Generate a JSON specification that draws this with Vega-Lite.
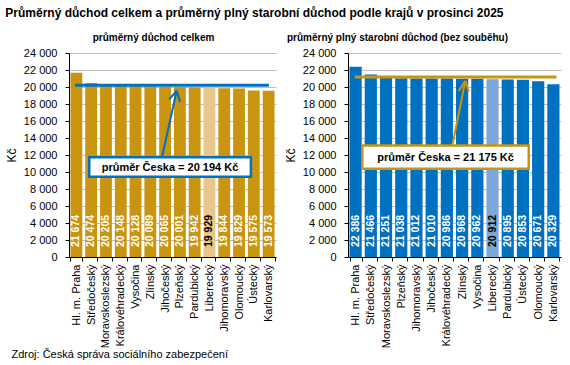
{
  "$schema": "https://vega.github.io/schema/vega-lite/v6.json",
  "background": "white",
  "padding": {"left": 5, "top": 7, "right": 5, "bottom": 5},
  "title": {"text": "Průměrný důchod celkem a průměrný plný starobní důchod podle krajů v prosinci 2025", "anchor": "start", "frame": "bounds", "fontSize": 12, "fontWeight": "bold", "color": "#000000", "offset": 13},
  "datasets": {
    "left": [
      {"kraj": "Hl. m. Praha", "value": 21674, "hl": false},
      {"kraj": "Středočeský", "value": 20474, "hl": false},
      {"kraj": "Moravskoslezský", "value": 20205, "hl": false},
      {"kraj": "Královéhradecký", "value": 20148, "hl": false},
      {"kraj": "Vysočina", "value": 20128, "hl": false},
      {"kraj": "Zlínský", "value": 20089, "hl": false},
      {"kraj": "Jihočeský", "value": 20065, "hl": false},
      {"kraj": "Plzeňský", "value": 20001, "hl": false},
      {"kraj": "Pardubický", "value": 19942, "hl": false},
      {"kraj": "Liberecký", "value": 19929, "hl": true},
      {"kraj": "Jihomoravský", "value": 19844, "hl": false},
      {"kraj": "Olomoucký", "value": 19829, "hl": false},
      {"kraj": "Ústecký", "value": 19575, "hl": false},
      {"kraj": "Karlovarský", "value": 19573, "hl": false}
    ],
    "right": [
      {"kraj": "Hl. m. Praha", "value": 22386, "hl": false},
      {"kraj": "Středočeský", "value": 21466, "hl": false},
      {"kraj": "Moravskoslezský", "value": 21251, "hl": false},
      {"kraj": "Plzeňský", "value": 21038, "hl": false},
      {"kraj": "Jihomoravský", "value": 21012, "hl": false},
      {"kraj": "Jihočeský", "value": 21010, "hl": false},
      {"kraj": "Královéhradecký", "value": 20986, "hl": false},
      {"kraj": "Zlínský", "value": 20968, "hl": false},
      {"kraj": "Vysočina", "value": 20962, "hl": false},
      {"kraj": "Liberecký", "value": 20912, "hl": true},
      {"kraj": "Pardubický", "value": 20895, "hl": false},
      {"kraj": "Ústecký", "value": 20853, "hl": false},
      {"kraj": "Olomoucký", "value": 20671, "hl": false},
      {"kraj": "Karlovarský", "value": 20329, "hl": false}
    ],
    "leftAvg": [{"x": 0.41, "x2": 13.52, "y": 20194}],
    "leftBox": [{"x": 1.37, "x2": 12.3, "y": 9447, "y2": 11730}],
    "leftText": [{"x": 6.83, "y": 10506, "t": "průměr Česka = 20 194 Kč"}],
    "leftArrow": [
      {"x": 6.29, "y": 11730, "x2": 7.28, "y2": 19565},
      {"x": 6.78, "y": 18553, "x2": 7.28, "y2": 19565},
      {"x": 7.51, "y": 18271, "x2": 7.28, "y2": 19565}
    ],
    "rightAvg": [{"x": 0.44, "x2": 13.7, "y": 21175}],
    "rightBox": [{"x": 0.94, "x2": 11.88, "y": 10368, "y2": 13123}],
    "rightText": [{"x": 6.41, "y": 11669, "t": "průměr Česka = 21 175 Kč"}],
    "rightArrow": [
      {"x": 6.86, "y": 13123, "x2": 7.71, "y2": 20725},
      {"x": 7.28, "y": 19543, "x2": 7.71, "y2": 20725},
      {"x": 7.94, "y": 19472, "x2": 7.71, "y2": 20725}
    ]
  },
  "hconcat": [
    {
      "width": 207,
      "height": 204,
      "title": {"text": "průměrný důchod celkem", "fontSize": 10, "fontWeight": "bold", "dx": -19, "offset": 4, "color": "#000000"},
      "layer": [
        {
          "data": {"name": "left"},
          "encoding": {
            "x": {"field": "kraj", "type": "nominal", "sort": null, "scale": {"paddingInner": 0.2, "paddingOuter": 0.1},
              "axis": {"title": "Zdroj: Česká správa sociálního zabezpečení", "titleAnchor": "start", "titleAlign": "left", "titleX": -58, "titleY": 97, "titleBaseline": "middle", "titleFontSize": 11, "titleFontWeight": "normal", "titleColor": "#000000"}},
            "y": {"field": "value", "type": "quantitative", "scale": {"domain": [0, 24000], "nice": false}, "axis": {"title": "Kč", "tickCount": 12, "labelExpr": "replace(format(datum.value, ','), ',', ' ')"}}
          },
          "layer": [
            {"mark": {"type": "bar"}, "encoding": {"color": {"condition": {"test": "datum.hl", "value": "#E9C68A"}, "value": "#C99510"}}},
            {"mark": {"type": "text", "angle": 270, "align": "left", "baseline": "middle", "dx": 10, "fontWeight": "bold", "fontSize": 10.5, "text": {"expr": "replace(format(datum.value, ','), ',', ' ')"}},
              "encoding": {"y": {"datum": 0, "type": "quantitative", "scale": {"domain": [0, 24000], "nice": false}, "axis": {"title": "Kč", "tickCount": 12, "labelExpr": "replace(format(datum.value, ','), ',', ' ')"}}, "color": {"condition": {"test": "datum.hl", "value": "#000000"}, "value": "#FFFFFF"}}}
          ]
        },
        {
          "layer": [
            {"data": {"name": "leftAvg"}, "mark": {"type": "rule", "color": "#0070C0", "strokeWidth": 3},
              "encoding": {"x": {"field": "x", "type": "quantitative", "scale": {"domain": [0, 14]}, "axis": null}, "x2": {"field": "x2"}, "y": {"field": "y", "type": "quantitative", "axis": {"title": "Kč", "tickCount": 12, "labelExpr": "replace(format(datum.value, ','), ',', ' ')"}}}},
            {"data": {"name": "leftArrow"}, "mark": {"type": "rule", "color": "#0070C0", "strokeWidth": 2},
              "encoding": {"x": {"field": "x", "type": "quantitative", "scale": {"domain": [0, 14]}, "axis": null}, "x2": {"field": "x2"}, "y": {"field": "y", "type": "quantitative", "axis": {"title": "Kč", "tickCount": 12, "labelExpr": "replace(format(datum.value, ','), ',', ' ')"}}, "y2": {"field": "y2"}}},
            {"data": {"name": "leftBox"}, "mark": {"type": "rect", "fill": "#FFFFFF", "stroke": "#0070C0", "strokeWidth": 2.5},
              "encoding": {"x": {"field": "x", "type": "quantitative", "scale": {"domain": [0, 14]}, "axis": null}, "x2": {"field": "x2"}, "y": {"field": "y", "type": "quantitative", "axis": {"title": "Kč", "tickCount": 12, "labelExpr": "replace(format(datum.value, ','), ',', ' ')"}}, "y2": {"field": "y2"}}},
            {"data": {"name": "leftText"}, "mark": {"type": "text", "fontWeight": "bold", "fontSize": 11, "color": "#000000", "baseline": "middle", "align": "center"},
              "encoding": {"x": {"field": "x", "type": "quantitative", "scale": {"domain": [0, 14]}, "axis": null}, "y": {"field": "y", "type": "quantitative", "axis": {"title": "Kč", "tickCount": 12, "labelExpr": "replace(format(datum.value, ','), ',', ' ')"}}, "text": {"field": "t"}}}
          ]
        }
      ],
      "resolve": {"scale": {"x": "independent"}}
    },
    {
      "width": 213,
      "height": 204,
      "title": {"text": "průměrný plný starobní důchod (bez souběhu)", "fontSize": 10, "fontWeight": "bold", "dx": -57, "offset": 4, "color": "#000000"},
      "layer": [
        {
          "data": {"name": "right"},
          "encoding": {
            "x": {"field": "kraj", "type": "nominal", "sort": null, "scale": {"paddingInner": 0.2, "paddingOuter": 0.1}, "axis": {"title": null}},
            "y": {"field": "value", "type": "quantitative", "scale": {"domain": [0, 24000], "nice": false}, "axis": {"title": "Kč", "tickCount": 12, "labelExpr": "replace(format(datum.value, ','), ',', ' ')"}}
          },
          "layer": [
            {"mark": {"type": "bar"}, "encoding": {"color": {"condition": {"test": "datum.hl", "value": "#7BA7D9"}, "value": "#0070C0"}}},
            {"mark": {"type": "text", "angle": 270, "align": "left", "baseline": "middle", "dx": 10, "fontWeight": "bold", "fontSize": 10.5, "text": {"expr": "replace(format(datum.value, ','), ',', ' ')"}},
              "encoding": {"y": {"datum": 0, "type": "quantitative", "scale": {"domain": [0, 24000], "nice": false}, "axis": {"title": "Kč", "tickCount": 12, "labelExpr": "replace(format(datum.value, ','), ',', ' ')"}}, "color": {"condition": {"test": "datum.hl", "value": "#000000"}, "value": "#FFFFFF"}}}
          ]
        },
        {
          "layer": [
            {"data": {"name": "rightAvg"}, "mark": {"type": "rule", "color": "#C99510", "strokeWidth": 3},
              "encoding": {"x": {"field": "x", "type": "quantitative", "scale": {"domain": [0, 14]}, "axis": null}, "x2": {"field": "x2"}, "y": {"field": "y", "type": "quantitative", "axis": {"title": "Kč", "tickCount": 12, "labelExpr": "replace(format(datum.value, ','), ',', ' ')"}}}},
            {"data": {"name": "rightArrow"}, "mark": {"type": "rule", "color": "#C99510", "strokeWidth": 2},
              "encoding": {"x": {"field": "x", "type": "quantitative", "scale": {"domain": [0, 14]}, "axis": null}, "x2": {"field": "x2"}, "y": {"field": "y", "type": "quantitative", "axis": {"title": "Kč", "tickCount": 12, "labelExpr": "replace(format(datum.value, ','), ',', ' ')"}}, "y2": {"field": "y2"}}},
            {"data": {"name": "rightBox"}, "mark": {"type": "rect", "fill": "#FFFFFF", "stroke": "#C99510", "strokeWidth": 2.5},
              "encoding": {"x": {"field": "x", "type": "quantitative", "scale": {"domain": [0, 14]}, "axis": null}, "x2": {"field": "x2"}, "y": {"field": "y", "type": "quantitative", "axis": {"title": "Kč", "tickCount": 12, "labelExpr": "replace(format(datum.value, ','), ',', ' ')"}}, "y2": {"field": "y2"}}},
            {"data": {"name": "rightText"}, "mark": {"type": "text", "fontWeight": "bold", "fontSize": 11, "color": "#000000", "baseline": "middle", "align": "center"},
              "encoding": {"x": {"field": "x", "type": "quantitative", "scale": {"domain": [0, 14]}, "axis": null}, "y": {"field": "y", "type": "quantitative", "axis": {"title": "Kč", "tickCount": 12, "labelExpr": "replace(format(datum.value, ','), ',', ' ')"}}, "text": {"field": "t"}}}
          ]
        }
      ],
      "resolve": {"scale": {"x": "independent"}}
    }
  ],
  "spacing": 8,
  "config": {
    "font": "Liberation Sans",
    "view": {"stroke": null},
    "axisX": {"labelAngle": -90, "labelFontSize": 11, "labelColor": "#000000", "tickBand": "extent", "tickSize": 4, "tickColor": "#000000", "domainColor": "#000000", "grid": false, "labelPadding": 3, "labelLimit": 200},
    "axisY": {"tickCount": 12, "grid": true, "gridColor": "#BFBFBF", "domainColor": "#000000", "tickColor": "#000000", "tickSize": 4, "labelFontSize": 11, "labelColor": "#000000", "labelPadding": 8, "titleFontSize": 12, "titleFontWeight": "normal", "titleColor": "#000000", "titlePadding": 5}
  }
}
